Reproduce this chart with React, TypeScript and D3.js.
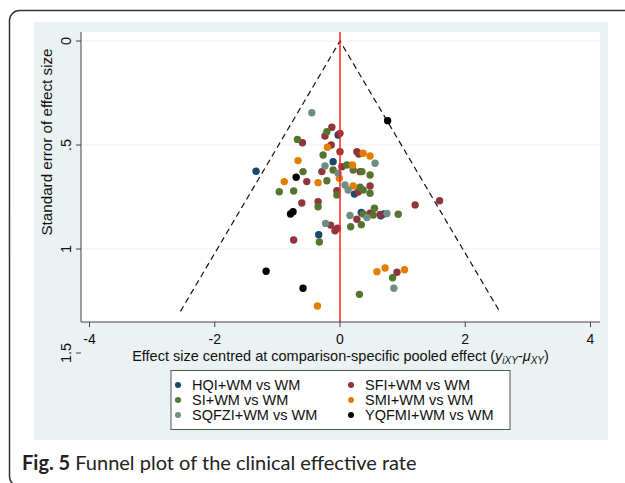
import { useEffect, useRef } from "react";
import * as d3 from "d3";

type Pt = [number, number];

// effect size (centred), standard error
const hqi: Pt[] = [
  [-1.34, 0.626], [-0.03, 0.452], [-0.11, 0.58], [-0.34, 0.931],
  [0.23, 0.736], [0.34, 0.824], [0.65, 0.84], [0.7, 0.832],
];
const sfi: Pt[] = [
  [-0.13, 0.415], [-0.24, 0.457], [0.0, 0.444], [-0.6, 0.489], [-0.14, 0.5],
  [0.0, 0.532], [0.27, 0.532], [0.3, 0.543], [0.03, 0.604], [-0.29, 0.628],
  [0.32, 0.628], [-0.53, 0.676], [0.48, 0.697], [-0.05, 0.72], [0.29, 0.726],
  [-0.35, 0.773], [-0.61, 0.779], [-0.74, 0.957], [0.27, 0.857], [0.64, 0.834],
  [0.48, 0.828], [-0.15, 0.885], [-0.08, 0.912], [-0.04, 0.9], [1.2, 0.788],
  [1.59, 0.768], [0.91, 1.112],
];
const si: Pt[] = [
  [-0.21, 0.436], [-0.68, 0.473], [-0.27, 0.548], [0.11, 0.596], [-0.11, 0.62],
  [0.21, 0.62], [0.35, 0.628], [-0.59, 0.628], [-0.21, 0.672], [0.48, 0.644],
  [0.32, 0.703], [0.37, 0.716], [0.48, 0.732], [-0.05, 0.74], [-0.97, 0.725],
  [-0.74, 0.721], [-0.35, 0.797], [-0.33, 0.966], [0.37, 0.832], [0.55, 0.804],
  [0.53, 0.837], [0.93, 0.833], [0.17, 0.893], [0.34, 0.883], [0.84, 1.138],
  [0.31, 1.218],
];
const smi: Pt[] = [
  [-0.2, 0.511], [0.37, 0.54], [0.48, 0.553], [-0.67, 0.575], [0.2, 0.596],
  [-0.01, 0.66], [-0.89, 0.676], [-0.35, 0.681], [0.21, 0.697], [0.59, 1.109],
  [0.72, 1.091], [1.03, 1.1], [-0.36, 1.274],
];
const sqfzi: Pt[] = [
  [-0.45, 0.345], [0.56, 0.588], [-0.24, 0.601], [-0.03, 0.636], [0.08, 0.692],
  [0.13, 0.716], [0.16, 0.839], [0.43, 0.849], [0.75, 0.829], [-0.23, 0.877],
  [0.86, 1.189],
];
const yqfmi: Pt[] = [
  [0.76, 0.383], [-0.7, 0.655], [-0.75, 0.821], [-0.79, 0.832], [-1.18, 1.107],
  [-0.59, 1.189],
];

const groups = [
  { name: "HQI+WM vs WM", color: "#1a476f", data: hqi },
  { name: "SFI+WM vs WM", color: "#90353b", data: sfi },
  { name: "SI+WM vs WM", color: "#55752f", data: si },
  { name: "SMI+WM vs WM", color: "#e37e00", data: smi },
  { name: "SQFZI+WM vs WM", color: "#6e8e84", data: sqfzi },
  { name: "YQFMI+WM vs WM", color: "#000000", data: yqfmi },
];

const xTicks = [-4, -2, 0, 2, 4];
const yTicks = [0, 0.5, 1, 1.5];
const yTickLabels = ["0", ".5", "1", "1.5"];
const seMax = 1.3;

export default function App() {
  const ref = useRef<SVGSVGElement>(null);

  useEffect(() => {
    const svg = d3.select(ref.current);
    svg.selectAll("*").remove();
    const font = "'Liberation Sans', Arial, sans-serif";

    // outer frame
    svg.append("rect").attr("x", 9.5).attr("y", 10.5).attr("width", 700).attr("height", 476)
      .attr("rx", 10).attr("fill", "#fff").attr("stroke", "#333").attr("stroke-width", 1.5);

    // graph region
    svg.append("rect").attr("x", 34).attr("y", 22).attr("width", 574).attr("height", 418)
      .attr("fill", "#eaf2f3");

    const plot = { left: 81, right: 600, top: 32, bottom: 322 };
    svg.append("rect").attr("x", plot.left).attr("y", plot.top)
      .attr("width", plot.right - plot.left).attr("height", plot.bottom - plot.top).attr("fill", "#fff");

    const x = d3.scaleLinear().domain([-4, 4]).range([89.5, 590.5]);
    const y = d3.scaleLinear().domain([0, 1]).range([41, 249]);

    // grid
    svg.append("g").selectAll("line").data([0, 0.5, 1]).join("line")
      .attr("x1", plot.left).attr("x2", plot.right)
      .attr("y1", (d) => y(d)).attr("y2", (d) => y(d))
      .attr("stroke", "#eaf2f3").attr("stroke-width", 1.2);

    // funnel
    const funnel = d3.line<Pt>().x((d) => x(d[0])).y((d) => y(d[1]));
    svg.append("path")
      .attr("d", funnel([[-1.96 * seMax, seMax], [0, 0], [1.96 * seMax, seMax]]))
      .attr("fill", "none").attr("stroke", "#111").attr("stroke-width", 1.2)
      .attr("stroke-dasharray", "6,4");

    // points
    groups.forEach((g) => {
      svg.append("g").selectAll("circle").data(g.data).join("circle")
        .attr("cx", (d) => x(d[0])).attr("cy", (d) => y(d[1]))
        .attr("r", 3.7).attr("fill", g.color);
    });

    // reference line
    svg.append("line").attr("x1", x(0)).attr("x2", x(0))
      .attr("y1", plot.top).attr("y2", plot.bottom)
      .attr("stroke", "#ff2020").attr("stroke-width", 1.5);

    // axes
    svg.append("line").attr("x1", plot.left).attr("x2", plot.right)
      .attr("y1", plot.bottom).attr("y2", plot.bottom).attr("stroke", "#444");
    svg.append("line").attr("x1", plot.left).attr("x2", plot.left)
      .attr("y1", plot.top).attr("y2", plot.bottom).attr("stroke", "#444");

    const xt = svg.append("g").selectAll("g").data(xTicks).join("g")
      .attr("transform", (d) => `translate(${x(d)},${plot.bottom})`);
    xt.append("line").attr("y2", 5).attr("stroke", "#444");
    xt.append("text").attr("y", 22).attr("text-anchor", "middle")
      .attr("font-family", font).attr("font-size", 14).attr("fill", "#111")
      .text((d) => String(d));

    const yt = svg.append("g").selectAll("g").data(yTicks).join("g")
      .attr("transform", (d) => `translate(${plot.left},${y(d)})`);
    yt.append("line").attr("x2", -5).attr("stroke", "#444");
    yt.append("text").attr("transform", "translate(-10,0) rotate(-90)")
      .attr("text-anchor", "middle").attr("font-family", font)
      .attr("font-size", 14.5).attr("fill", "#111")
      .text((d, i) => yTickLabels[i]);

    // axis titles
    svg.append("text").attr("transform", `translate(52,${(y(0) + y(1)) / 2 - 3}) rotate(-90)`)
      .attr("text-anchor", "middle").attr("font-family", font).attr("font-size", 15.2)
      .attr("fill", "#111").text("Standard error of effect size");

    const xTitle = svg.append("text").attr("x", (plot.left + plot.right) / 2).attr("y", 361)
      .attr("text-anchor", "middle").attr("font-family", font).attr("font-size", 14.5).attr("fill", "#111");
    xTitle.append("tspan").text("Effect size centred at comparison-specific pooled effect (");
    xTitle.append("tspan").attr("font-style", "italic").text("y");
    xTitle.append("tspan").attr("font-style", "italic").attr("font-size", 10).attr("dy", 3).text("iXY");
    xTitle.append("tspan").attr("dy", -3).text("-");
    xTitle.append("tspan").attr("font-style", "italic").text("μ");
    xTitle.append("tspan").attr("font-style", "italic").attr("font-size", 10).attr("dy", 3).text("XY");
    xTitle.append("tspan").attr("dy", -3).text(")");

    // legend
    svg.append("rect").attr("x", 171).attr("y", 370.5).attr("width", 339).attr("height", 59)
      .attr("fill", "#fff").attr("stroke", "#555").attr("stroke-width", 1);
    const leg = svg.append("g").selectAll("g").data(groups).join("g")
      .attr("transform", (d, i) => `translate(${i % 2 === 0 ? 178 : 351},${385 + Math.floor(i / 2) * 15})`);
    leg.append("circle").attr("r", 3).attr("fill", (d) => d.color);
    leg.append("text").attr("x", 14).attr("y", 5).attr("font-family", font)
      .attr("font-size", 14.5).attr("fill", "#111").text((d) => d.name);

    // caption
    const cap = svg.append("text").attr("x", 22).attr("y", 470)
      .attr("font-family", "Lato, 'Open Sans', sans-serif").attr("font-size", 20).attr("fill", "#222");
    cap.append("tspan").attr("font-weight", "bold").text("Fig. 5");
    cap.append("tspan").text(" Funnel plot of the clinical effective rate");
  }, []);

  return (
    <svg ref={ref} width={625} height={483}
      style={{ position: "absolute", left: 0, top: 0, display: "block" }} />
  );
}
